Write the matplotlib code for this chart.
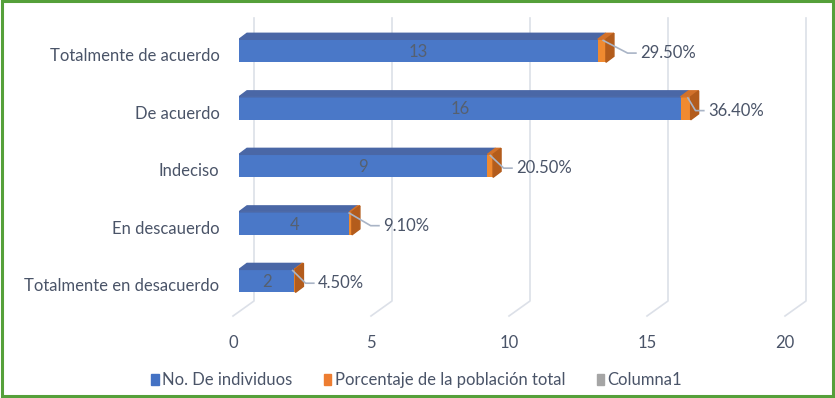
import matplotlib.pyplot as plt
from matplotlib.patches import Polygon, Rectangle, Patch
from matplotlib.transforms import ScaledTranslation

plt.rcParams['font.family'] = ['Lato', 'DejaVu Sans']

categorias = ['Totalmente en desacuerdo', 'En descauerdo', 'Indeciso', 'De acuerdo', 'Totalmente de acuerdo']
individuos = [2, 4, 9, 16, 13]
porcentaje = [0.045, 0.091, 0.205, 0.364, 0.295]
etiquetas_pct = ['4.50%', '9.10%', '20.50%', '36.40%', '29.50%']
pos_etiqueta_pct = [2.86, 5.22, 10.04, 16.99, 14.53]
xticks = [0, 5, 10, 15, 20]

azul = '#4A78C8'
azul_top = '#4A67A6'
naranja = '#F08A30'
naranja_top = '#D2712A'
naranja_lado = '#B35C1C'
texto = '#4A5468'
grid_c = '#DCE0E8'

fig = plt.figure(figsize=(8.35, 3.98), dpi=100)
ax = fig.add_axes([239 / 835, (398 - 316) / 398, 552 / 835, 298 / 398])
ax.set_xlim(0, 20)
ax.set_ylim(-0.54, 4.64)
for s in ax.spines.values():
    s.set_visible(False)

# pseudo-3D grid (back wall + floor)
gx_front = -6 / 27.6
gx_back = 15 / 27.6
y_floor_back = -0.54 + 15 / 57.5
for v in xticks:
    ax.plot([v + gx_back, v + gx_back, v + gx_front], [4.64, y_floor_back, -0.54],
            color=grid_c, lw=1.2, clip_on=False, zorder=0)

h = 0.40
off = 0.07
dx = 8 / 27.6
dy = 6 / 57.5
for i, (n, p) in enumerate(zip(individuos, porcentaje)):
    yc = i + off
    b0, b1 = yc - h / 2, yc + h / 2
    ax.barh(yc, n, height=h, color=azul, zorder=2)
    ax.barh(yc, p, left=n, height=h, color=naranja, zorder=2)
    ax.add_patch(Polygon([(0, b1), (dx, b1 + dy), (n + dx, b1 + dy), (n, b1)],
                         closed=True, color=azul_top, zorder=2))
    ax.add_patch(Polygon([(n, b1), (n + dx, b1 + dy), (n + p + dx, b1 + dy), (n + p, b1)],
                         closed=True, color=naranja_top, zorder=2))
    ax.add_patch(Polygon([(n + p, b0), (n + p, b1), (n + p + dx, b1 + dy), (n + p + dx, b0 + dy)],
                         closed=True, color=naranja_lado, zorder=2))
    ax.text(n / 2, yc - 0.02, str(n), ha='center', va='center', fontsize=12, color='#56606F', zorder=3)
    # leader line + percentage label
    lx = pos_etiqueta_pct[i]
    ax.plot([n + p - 0.1, lx - 0.45, lx - 0.15], [b1 - 0.02, i + 0.03, i + 0.03],
            color='#A9B4C6', lw=1.2, zorder=3)
    ax.text(lx, i + 0.03, etiquetas_pct[i], ha='left', va='center', fontsize=12, color=texto)

ax.set_yticks(range(len(categorias)))
ax.set_yticklabels(categorias, fontsize=12, color=texto)
ax.set_xticks(xticks)
ax.set_xticklabels([str(v) for v in xticks], fontsize=12, color=texto)
ax.tick_params(length=0)
ax.tick_params(axis='y', pad=14)
ax.tick_params(axis='x', pad=14)
for lbl in ax.get_xticklabels():
    lbl.set_transform(lbl.get_transform() + ScaledTranslation(-6 / 100, 0, fig.dpi_scale_trans))

handles = [Patch(color='#4472C4'), Patch(color='#ED7D31'), Patch(color='#A5A5A5')]
fig.legend(handles, ['No. De individuos', 'Porcentaje de la población total', 'Columna1'],
           loc='center', bbox_to_anchor=(0.499, 0.045), ncol=3, frameon=False,
           fontsize=12, handlelength=0.45, handleheight=0.6, handletextpad=0.2,
           columnspacing=1.9, labelcolor=texto)

fig.add_artist(Rectangle((0.002, 0.004), 0.996, 0.993, transform=fig.transFigure,
                         fill=False, edgecolor='#55A03A', lw=2.2))

fig.savefig('out.png', dpi=100)
